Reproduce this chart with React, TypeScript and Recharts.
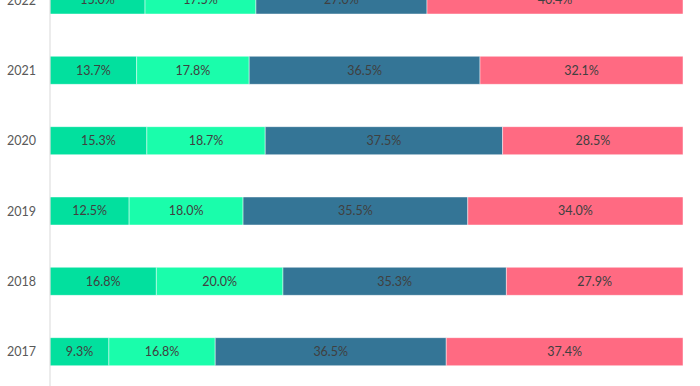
import React from "react";
import { BarChart, Bar, XAxis, YAxis, LabelList } from "recharts";

const years = ["2022", "2021", "2020", "2019", "2018", "2017"];
const seriesA = [15.0, 13.7, 15.3, 12.5, 16.8, 9.3];
const seriesB = [17.5, 17.8, 18.7, 18.0, 20.0, 16.8];
const seriesC = [27.0, 36.5, 37.5, 35.5, 35.3, 36.5];
const seriesD = [40.4, 32.1, 28.5, 34.0, 27.9, 37.4];

const data = years.map((year, i) => ({
  year,
  a: seriesA[i],
  b: seriesB[i],
  c: seriesC[i],
  d: seriesD[i],
}));

const series = [
  { key: "a", color: "#02e09e" },
  { key: "b", color: "#1afdab" },
  { key: "c", color: "#347596" },
  { key: "d", color: "#ff6a82" },
];

const font = "Lato, 'Open Sans', sans-serif";
const fmt = (v: any) => `${Number(v).toFixed(1)}%`;

export default function App() {
  return (
    <div style={{ position: "absolute", top: 0, left: 0, width: 700, height: 386, overflow: "hidden", background: "#fff" }}>
      <div style={{ position: "relative", top: -35 }}>
        <BarChart
          width={700}
          height={422}
          data={data}
          layout="vertical"
          stackOffset="expand"
          margin={{ top: 0, right: 17, bottom: 0, left: 0 }}
        >
          <XAxis type="number" hide domain={[0, 1]} />
          <YAxis
            type="category"
            dataKey="year"
            width={50}
            tickLine={false}
            axisLine={{ stroke: "#d9d9d9" }}
            tick={{ fontSize: 12.5, fill: "#595959", fontFamily: font }}
            tickMargin={8}
          />
          {series.map((s) => (
            <Bar
              key={s.key}
              dataKey={s.key}
              stackId="x"
              fill={s.color}
              stroke="rgba(255,255,255,0.45)"
              strokeWidth={1}
              barSize={28}
              isAnimationActive={false}
            >
              <LabelList
                dataKey={s.key}
                position="center"
                formatter={fmt}
                style={{ fontSize: 12.5, fill: "#404040", fontFamily: font }}
              />
            </Bar>
          ))}
        </BarChart>
      </div>
    </div>
  );
}
